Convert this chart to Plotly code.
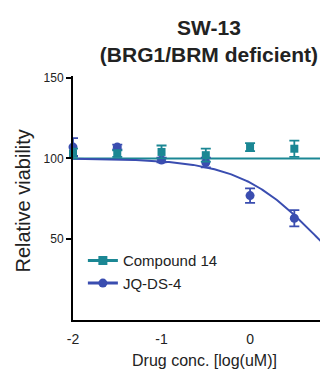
import numpy as np
import plotly.graph_objects as go

# Dose points (log10 uM)
log_conc = [-2.0, -1.5, -1.0, -0.5, 0.0, 0.5]

# Compound 14: mean relative viability and SD
cmp14_mean = [103, 103, 104, 102, 107, 106]
cmp14_sd = [3, 2, 4, 4, 2.5, 5]

# JQ-DS-4: mean relative viability and SD
jq_mean = [107, 107, 99, 97.5, 77, 63]
jq_sd = [5.5, 1.5, 1.5, 3, 4.5, 5]

# Fitted dose-response parameters (four-parameter logistic)
jq_top, jq_bottom, jq_logic50, jq_hill = 100.0, 0.0, 0.777, 0.97
cmp14_level = 100.0

TEAL = "#1b8794"
BLUE = "#3a4db0"
INK = "#222222"
FONT = "Arial, Liberation Sans, sans-serif"

x_fit = np.linspace(-2.0, 1.0, 200)
jq_fit = jq_bottom + (jq_top - jq_bottom) / (1 + 10 ** ((x_fit - jq_logic50) * jq_hill))
cmp14_fit = np.full_like(x_fit, cmp14_level)

fig = go.Figure()

# Fitted curves
fig.add_trace(go.Scatter(x=x_fit, y=cmp14_fit, mode="lines",
                         line=dict(color=TEAL, width=2), showlegend=False,
                         hoverinfo="skip"))
fig.add_trace(go.Scatter(x=x_fit, y=jq_fit, mode="lines",
                         line=dict(color=BLUE, width=2), showlegend=False,
                         hoverinfo="skip"))

# Measured points with error bars
fig.add_trace(go.Scatter(x=log_conc, y=jq_mean, mode="markers",
                         marker=dict(symbol="circle", size=9, color=BLUE),
                         error_y=dict(type="data", array=jq_sd, color=BLUE,
                                      thickness=1.8, width=5),
                         showlegend=False, cliponaxis=False))
fig.add_trace(go.Scatter(x=log_conc, y=cmp14_mean, mode="markers",
                         marker=dict(symbol="square", size=8, color=TEAL),
                         error_y=dict(type="data", array=cmp14_sd, color=TEAL,
                                      thickness=1.8, width=5),
                         showlegend=False, cliponaxis=False))

# Legend entries
fig.add_trace(go.Scatter(x=[None], y=[None], mode="lines+markers",
                         name="Compound 14",
                         line=dict(color=TEAL, width=3),
                         marker=dict(symbol="square", size=9, color=TEAL)))
fig.add_trace(go.Scatter(x=[None], y=[None], mode="lines+markers",
                         name="JQ-DS-4",
                         line=dict(color=BLUE, width=3),
                         marker=dict(symbol="circle", size=9, color=BLUE)))

fig.update_layout(
    width=320, height=369,
    margin=dict(l=73, r=0, t=76, b=49),
    paper_bgcolor="white", plot_bgcolor="white",
    font=dict(family=FONT, color=INK),
    title=dict(text="<b>SW-13<br>(BRG1/BRM deficient)</b>",
               x=0.653, xanchor="center", xref="container",
               y=0.905, yanchor="top", yref="container",
               font=dict(size=21, color=INK)),
    showlegend=True,
    legend=dict(x=0.04, y=0.31, xanchor="left", yanchor="top",
                bgcolor="rgba(0,0,0,0)", font=dict(size=15),
                itemwidth=30, tracegroupgap=4),
    annotations=[
        dict(text="Drug conc. [log(uM)]", xref="paper", yref="paper",
             x=0.532, y=-0.165, xanchor="center", yanchor="middle",
             showarrow=False, font=dict(size=16, color=INK)),
        dict(text="Relative viability", xref="paper", yref="paper",
             x=-0.2024, y=0.4855, xanchor="center", yanchor="middle",
             textangle=-90, showarrow=False, font=dict(size=20, color=INK)),
    ],
)

fig.update_xaxes(range=[-2.0, 0.79], showgrid=False, zeroline=False,
                 showline=True, linecolor="black", linewidth=1.5,
                 tickvals=[-2, -1, 0], ticktext=["-2", "-1", "0"],
                 ticks="", tickfont=dict(size=14), ticklabelstandoff=5)
fig.update_yaxes(range=[0, 151], showgrid=False, zeroline=False,
                 showline=True, linecolor="black", linewidth=2,
                 tickvals=[50, 100, 150], ticks="outside", ticklen=5,
                 tickwidth=1.5, tickcolor="black", tickfont=dict(size=12))

fig.write_html("out.html")
